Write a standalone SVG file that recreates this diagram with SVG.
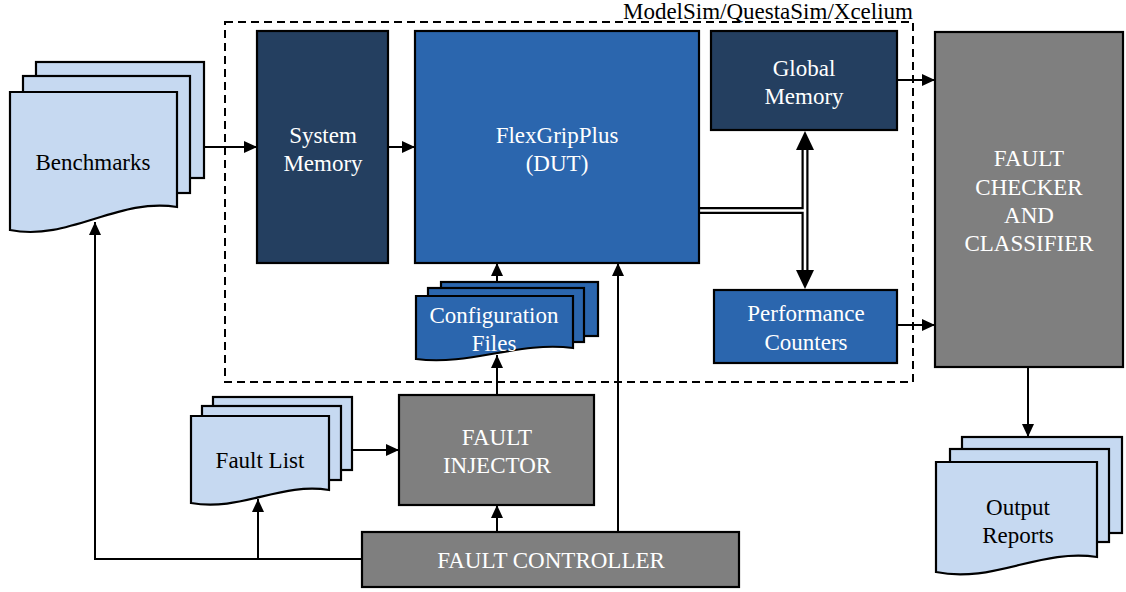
<svg xmlns="http://www.w3.org/2000/svg" width="1126" height="592" viewBox="0 0 1126 592">
  <defs>
    <style>
      .t { font-size: 23px; text-anchor: middle; }
      .w { fill: #ffffff; }
      .k { fill: #000000; }
      .box { stroke: #000; stroke-width: 2.2; }
      .navy { fill: #243F60; }
      .blue { fill: #2B66AE; }
      .gray { fill: #7F7F7F; }
      .doc { fill: #C6D9F1; stroke: #000; stroke-width: 2.2; }
      .docb { fill: #2B66AE; stroke: #000; stroke-width: 2.2; }
      .wire { fill: none; stroke: #000; stroke-width: 2; }
    </style>
    <marker id="arr" markerUnits="userSpaceOnUse" markerWidth="14" markerHeight="14" refX="13" refY="6" orient="auto">
      <path d="M0,0 L13,6 L0,12 Z" fill="#000"/>
    </marker>
  </defs>

  <rect width="1126" height="592" fill="#ffffff"/>

  <g font-family="Liberation Serif, DejaVu Serif, Times New Roman, serif">

  <!-- simulator boundary -->
  <g id="simulator">
    <rect x="225" y="22" width="688" height="360" fill="none" stroke="#000" stroke-width="2" stroke-dasharray="8,5"/>
    <text class="t k" x="913" y="18.5" font-size="22.8" style="text-anchor:end">ModelSim/QuestaSim/Xcelium</text>
  </g>

  <g id="connectors">
    <line class="wire" x1="204" y1="147" x2="257" y2="147" marker-end="url(#arr)"/>
    <line class="wire" x1="388" y1="147" x2="415" y2="147" marker-end="url(#arr)"/>
    <line class="wire" x1="897" y1="80" x2="935" y2="80" marker-end="url(#arr)"/>
    <line class="wire" x1="897" y1="325" x2="935" y2="325" marker-end="url(#arr)"/>
    <line class="wire" x1="1028" y1="367" x2="1028" y2="437" marker-end="url(#arr)"/>
    <line class="wire" x1="497" y1="296" x2="497" y2="263" marker-end="url(#arr)"/>
    <line class="wire" x1="497" y1="395" x2="497" y2="355" marker-end="url(#arr)"/>
    <line class="wire" x1="618" y1="532" x2="618" y2="263" marker-end="url(#arr)"/>
    <line class="wire" x1="497" y1="532" x2="497" y2="505" marker-end="url(#arr)"/>
    <line class="wire" x1="352" y1="450" x2="399" y2="450" marker-end="url(#arr)"/>
    <polyline class="wire" points="362,559 95,559 95,222" marker-end="url(#arr)"/>
    <line class="wire" x1="258" y1="559" x2="258" y2="499" marker-end="url(#arr)"/>
    <!-- double-line bus between DUT, global memory and counters -->
    <g id="bus">
      <line x1="699" y1="210.5" x2="808" y2="210.5" stroke="#000" stroke-width="7"/>
      <line x1="805" y1="146" x2="805" y2="274" stroke="#000" stroke-width="7"/>
      <line x1="699" y1="210.5" x2="805" y2="210.5" stroke="#fff" stroke-width="2.6"/>
      <line x1="805" y1="146" x2="805" y2="274" stroke="#fff" stroke-width="2.6"/>
      <path d="M796,150 L805,131 L814,150 Z" fill="#000"/>
      <path d="M796,270 L805,289 L814,270 Z" fill="#000"/>
    </g>
  </g>

  <g id="benchmarks">
    <rect class="doc" x="36" y="62" width="168" height="116"/>
    <rect class="doc" x="23" y="76" width="167" height="117"/>
    <path class="doc" d="M10,92 H177 V207 C119,197 68,242 10,230 Z"/>
    <text class="t k" x="93" y="170">Benchmarks</text>
  </g>

  <g id="system-memory">
    <rect class="box navy" x="257" y="31" width="131" height="232"/>
    <text class="t w" x="323" y="143">System</text>
    <text class="t w" x="323" y="171">Memory</text>
  </g>

  <g id="flexgripplus">
    <rect class="box blue" x="415" y="31" width="284" height="232"/>
    <text class="t w" x="557" y="143">FlexGripPlus</text>
    <text class="t w" x="557" y="171">(DUT)</text>
  </g>

  <g id="global-memory">
    <rect class="box navy" x="711" y="31" width="186" height="99"/>
    <text class="t w" x="804" y="76">Global</text>
    <text class="t w" x="804" y="104">Memory</text>
  </g>

  <g id="performance-counters">
    <rect class="box blue" x="714" y="290" width="183" height="73"/>
    <text class="t w" x="806" y="321">Performance</text>
    <text class="t w" x="806" y="350">Counters</text>
  </g>

  <g id="configuration-files">
    <rect class="docb" x="441" y="282" width="157" height="54"/>
    <rect class="docb" x="428" y="288" width="156" height="54"/>
    <path class="docb" d="M416,296 H573 V348 C518,341 471,366 416,359 Z"/>
    <text class="t w" x="494" y="323">Configuration</text>
    <text class="t w" x="494" y="351">Files</text>
  </g>

  <g id="fault-checker">
    <rect class="box gray" x="935" y="32" width="188" height="335"/>
    <text class="t w" x="1029" y="166">FAULT</text>
    <text class="t w" x="1029" y="195">CHECKER</text>
    <text class="t w" x="1029" y="223">AND</text>
    <text class="t w" x="1029" y="251">CLASSIFIER</text>
  </g>

  <g id="output-reports">
    <rect class="doc" x="962" y="437" width="160" height="96"/>
    <rect class="doc" x="950" y="449" width="159" height="93"/>
    <path class="doc" d="M936,462 H1097 V557 C1041,548 992,584 936,572 Z"/>
    <text class="t k" x="1018" y="515">Output</text>
    <text class="t k" x="1018" y="543">Reports</text>
  </g>

  <g id="fault-list">
    <rect class="doc" x="213" y="397" width="139" height="73"/>
    <rect class="doc" x="202" y="406" width="139" height="74"/>
    <path class="doc" d="M191,416 H329 V490 C281,482 240,512 191,503 Z"/>
    <text class="t k" x="260" y="468">Fault List</text>
  </g>

  <g id="fault-injector">
    <rect class="box gray" x="399" y="395" width="195" height="110"/>
    <text class="t w" x="497" y="445">FAULT</text>
    <text class="t w" x="497" y="473">INJECTOR</text>
  </g>

  <g id="fault-controller">
    <rect class="box gray" x="362" y="532" width="377" height="55"/>
    <text class="t w" x="551" y="568">FAULT CONTROLLER</text>
  </g>

  </g>
</svg>
